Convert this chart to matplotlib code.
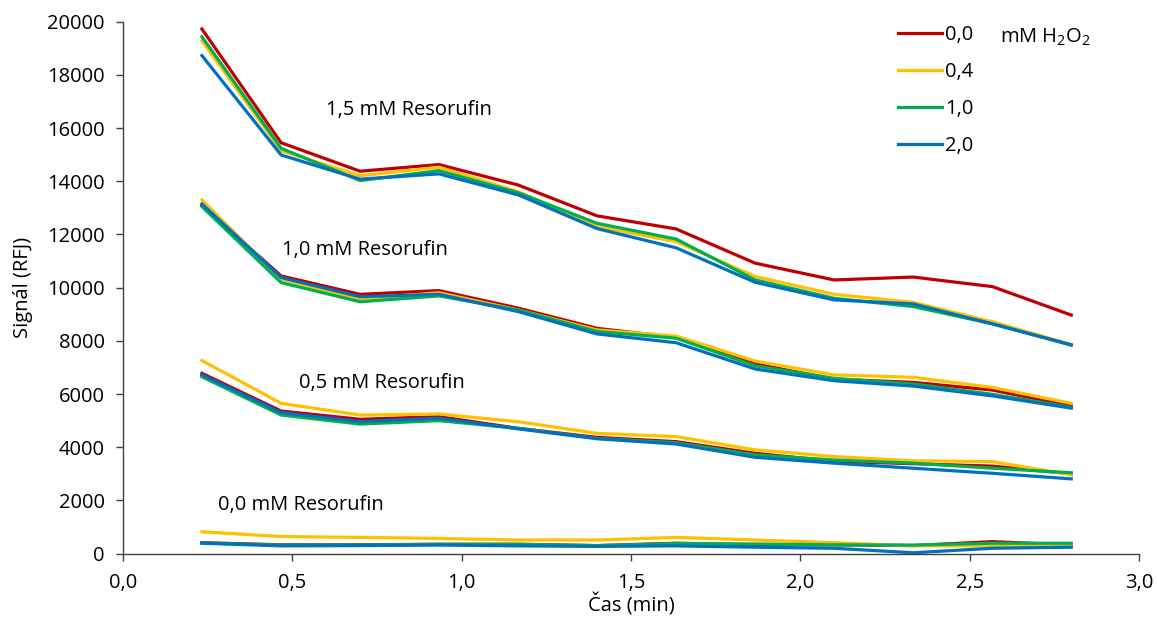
import matplotlib.pyplot as plt

plt.rcParams['font.family'] = ['Open Sans', 'DejaVu Sans']
plt.rcParams['mathtext.default'] = 'regular'

cas = [0.233, 0.467, 0.7, 0.933, 1.167, 1.4, 1.633, 1.867, 2.1, 2.333, 2.567, 2.8]
h2o2 = ['0,0', '0,4', '1,0', '2,0']
barvy = ['#C00000', '#FFC000', '#00B050', '#0070C0']

# 1,5 mM Resorufin
r15_00 = [19730, 15450, 14380, 14630, 13860, 12700, 12210, 10920, 10290, 10400, 10040, 8970]
r15_04 = [19290, 15150, 14210, 14530, 13610, 12300, 11730, 10420, 9750, 9450, 8720, 7860]
r15_10 = [19440, 15240, 14030, 14400, 13570, 12420, 11830, 10290, 9600, 9290, 8640, 7840]
r15_20 = [18730, 14990, 14080, 14280, 13490, 12220, 11500, 10200, 9540, 9390, 8640, 7850]
# 1,0 mM Resorufin
r10_00 = [13100, 10440, 9750, 9890, 9230, 8470, 8130, 7130, 6560, 6440, 6150, 5550]
r10_04 = [13300, 10320, 9560, 9810, 9160, 8410, 8180, 7240, 6720, 6630, 6250, 5650]
r10_10 = [13050, 10190, 9470, 9690, 9160, 8350, 8100, 7060, 6590, 6380, 5990, 5500]
r10_20 = [13150, 10380, 9660, 9750, 9100, 8260, 7930, 6940, 6500, 6300, 5930, 5470]
# 0,5 mM Resorufin
r05_00 = [6780, 5360, 5050, 5150, 4710, 4370, 4210, 3770, 3470, 3380, 3290, 3000]
r05_04 = [7260, 5650, 5210, 5250, 4960, 4520, 4400, 3900, 3650, 3490, 3460, 2960]
r05_10 = [6650, 5210, 4870, 5000, 4710, 4330, 4170, 3710, 3520, 3400, 3210, 3040]
r05_20 = [6720, 5300, 4960, 5090, 4690, 4320, 4120, 3620, 3400, 3210, 3020, 2810]
# 0,0 mM Resorufin
r00_00 = [410, 330, 330, 350, 350, 300, 390, 330, 330, 300, 450, 320]
r00_04 = [820, 640, 610, 570, 510, 510, 610, 510, 410, 290, 290, 320]
r00_10 = [400, 320, 320, 350, 350, 300, 380, 360, 330, 320, 390, 390]
r00_20 = [390, 290, 300, 320, 290, 270, 290, 240, 200, 30, 200, 240]

skupiny = [
    [r15_00, r15_04, r15_10, r15_20],
    [r10_00, r10_04, r10_10, r10_20],
    [r05_00, r05_04, r05_10, r05_20],
    [r00_00, r00_04, r00_10, r00_20],
]
popisky = ['1,5 mM Resorufin', '1,0 mM Resorufin', '0,5 mM Resorufin', '0,0 mM Resorufin']
pozice = [(0.60, 16700), (0.47, 11420), (0.52, 6400), (0.28, 1830)]

fs = 14.5

fig = plt.figure(figsize=(11.58, 6.22), dpi=100)
ax = fig.add_axes([0.1062, 0.110, 0.8774, 0.855])

for i, skupina in enumerate(skupiny):
    for j, hodnoty in enumerate(skupina):
        ax.plot(cas, hodnoty, color=barvy[j], lw=2.3,
                label=h2o2[j] if i == 0 else None)

for text, (x, y) in zip(popisky, pozice):
    ax.text(x, y, text, fontsize=fs, va='center', ha='left')

ax.set_xlim(0, 3.0)
ax.set_ylim(0, 20000)
ax.set_xticks([0, 0.5, 1.0, 1.5, 2.0, 2.5, 3.0])
ax.set_xticklabels(['0,0', '0,5', '1,0', '1,5', '2,0', '2,5', '3,0'])
ax.set_yticks(range(0, 20001, 2000))
ax.tick_params(labelsize=fs, length=5, width=1, color='#404040')
ax.tick_params(axis='x', pad=9)
ax.tick_params(axis='y', pad=8)
for s in ['top', 'right']:
    ax.spines[s].set_visible(False)
for s in ['left', 'bottom']:
    ax.spines[s].set_color('#404040')
    ax.spines[s].set_linewidth(1)

ax.set_xlabel('Čas (min)', fontsize=fs, labelpad=0)
ax.set_ylabel('Signál (RFJ)', fontsize=fs, labelpad=10)

leg = ax.legend(loc='upper left', bbox_to_anchor=(898 / 1158, 1 - 25 / 622),
                bbox_transform=fig.transFigure, frameon=False, fontsize=fs,
                handlelength=2.2, handletextpad=0.15, labelspacing=0.84,
                borderaxespad=0, borderpad=0)
fig.text(1000 / 1158, 1 - 37 / 622, 'mM H$_2$O$_2$', fontsize=fs, va='center')

fig.savefig('out.png', dpi=100)
